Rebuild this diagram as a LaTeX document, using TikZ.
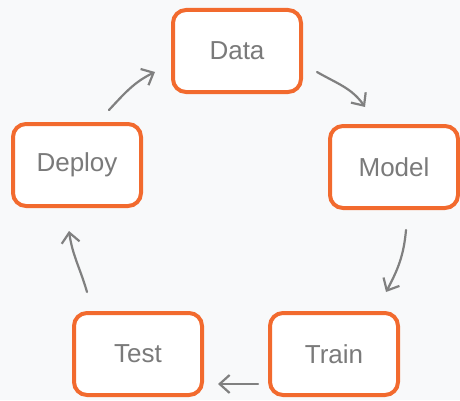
\documentclass[tikz,border=0pt]{standalone}
\usepackage{fontspec}
\setmainfont{Liberation Sans}
\usetikzlibrary{arrows.meta}
\definecolor{bgc}{HTML}{F8F9FA}
\definecolor{boxorange}{HTML}{F26A2E}
\definecolor{txtgray}{HTML}{7A7A7A}
\definecolor{arrowgray}{HTML}{808080}
\begin{document}
\begin{tikzpicture}[x=1pt,y=1pt,
  stagebox/.style={draw=boxorange, line width=4pt, rounded corners=13pt, fill=white,
    minimum width=128pt, minimum height=82pt, text=txtgray,
    font=\fontsize{26}{30}\selectfont},
  flow/.style={draw=arrowgray, line width=2.2pt, line cap=round,
    -{Straight Barb[length=10pt,width=18pt,line width=2.2pt]}}]
\fill[bgc] (0,0) rectangle (460,400);
\useasboundingbox (0,0) rectangle (460,400);
\node[stagebox] (data)   at (237,349) {Data};
\node[stagebox] (model)  at (394,233) {Model};
\node[stagebox] (deploy) at (77,235)  {Deploy};
\node[stagebox] (test)   at (138,46)  {Test};
\node[stagebox] (train)  at (334,46)  {Train};
% Data -> Model
\draw[flow] ([shift={(14pt,-21pt)}]data.east) to[out=-30,in=125] ([shift={(37pt,17pt)}]model.north west);
% Model -> Train
\draw[flow] ([shift={(12pt,-20pt)}]model.south) to[out=-95,in=62] ([shift={(-14pt,19pt)}]train.north east);
% Train -> Test
\draw[flow] ([shift={(-10pt,13pt)}]train.south west) -- ([shift={(14pt,13pt)}]test.south east);
% Test -> Deploy
\draw[flow] ([shift={(15pt,19pt)}]test.north west) to[out=106,in=-82] ([shift={(-8pt,-23pt)}]deploy.south);
% Deploy -> Data
\draw[flow] ([shift={(32pt,12pt)}]deploy.north) to[out=47,in=206] ([shift={(-16pt,-21pt)}]data.west);
\end{tikzpicture}
\end{document}
